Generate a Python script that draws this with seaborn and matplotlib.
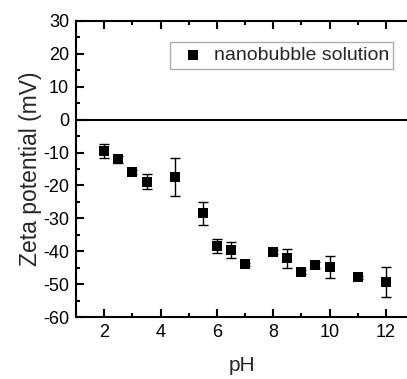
import numpy as np
import matplotlib
matplotlib.use("Agg")
import matplotlib.pyplot as plt
from matplotlib.ticker import MultipleLocator
import pandas as pd
import seaborn as sns

# zeta potential of nanobubble solution vs pH
ph = [2, 2.5, 3, 3.5, 4.5, 5.5, 6, 6.5, 7, 8, 8.5, 9, 9.5, 10, 11, 12]
zeta = [-9.6, -12.1, -16.0, -18.8, -17.5, -28.4, -38.4, -39.6, -43.9, -40.2,
        -42.1, -46.3, -44.2, -44.7, -47.9, -49.4]
err = [2.1, 1.2, 0.6, 2.2, 5.7, 3.5, 2.1, 2.3, 0.5, 0.5, 2.9, 0.5, 1.0, 3.3, 0.5, 4.6]

df = pd.DataFrame({"pH": ph, "zeta": zeta, "err": err})

sns.set_style("ticks")
plt.rcParams["font.family"] = ["Liberation Sans", "DejaVu Sans"]
plt.rcParams["axes.unicode_minus"] = False

fig = plt.figure(figsize=(4.07, 3.79), dpi=100)
ax = fig.add_axes([0.187, 0.163, 0.813, 0.782])

ax.errorbar(df["pH"], df["zeta"], yerr=df["err"], fmt="none", ecolor="black",
            elinewidth=1.0, capsize=3.3, capthick=1.0, zorder=2)
sns.scatterplot(data=df, x="pH", y="zeta", marker="s", s=54, color="black",
                edgecolor="black", linewidth=0, label="nanobubble solution",
                ax=ax, zorder=3)
ax.axhline(0, color="black", lw=1.5, zorder=1)

ax.set_xlim(1, 12.75)
ax.set_ylim(-60, 30)
ax.xaxis.set_major_locator(MultipleLocator(2))
ax.xaxis.set_minor_locator(MultipleLocator(1))
ax.yaxis.set_major_locator(MultipleLocator(10))
ax.yaxis.set_minor_locator(MultipleLocator(5))
ax.tick_params(which="both", direction="in", top=True, right=False,
               width=1.5, labelsize=13, colors="black")
ax.tick_params(which="major", length=6)
ax.tick_params(which="minor", length=3)
ax.tick_params(axis="y", pad=5)
ax.tick_params(axis="x", pad=5)
for side in ["left", "bottom", "top"]:
    ax.spines[side].set_linewidth(1.5)
    ax.spines[side].set_color("black")
ax.spines["right"].set_visible(False)

ax.set_xlabel("pH", fontsize=15, labelpad=11)
ax.set_ylabel("Zeta potential (mV)", fontsize=16.5, labelpad=1)

leg = ax.legend(loc="upper right", bbox_to_anchor=(0.958, 0.927), fontsize=14,
                frameon=True, fancybox=False, handletextpad=0.1,
                borderpad=0.22, handlelength=1.9, markerscale=1.0,
                borderaxespad=0)
leg.get_frame().set_edgecolor("#999999")
leg.get_frame().set_linewidth(1.0)

fig.savefig("out.png", dpi=100)
